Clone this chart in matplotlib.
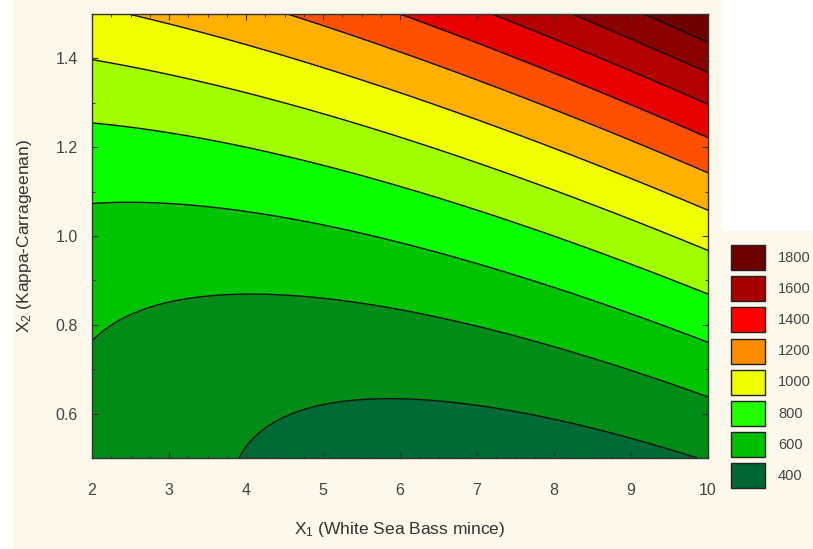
import numpy as np
import matplotlib
matplotlib.use('Agg')
import matplotlib.pyplot as plt
from matplotlib.patches import Rectangle
from matplotlib.ticker import MultipleLocator

plt.rcParams['font.family'] = ['Liberation Sans', 'DejaVu Sans']
plt.rcParams['mathtext.fontset'] = 'custom'
plt.rcParams['mathtext.rm'] = 'Liberation Sans'
plt.rcParams['mathtext.it'] = 'Liberation Sans'

# fitted response surface: z = b0 + b_y*y + b_yy*y^2 + b_x*x + b_xy*x*y + b_xx*x^2
coef_names = ['b0', 'b_y', 'b_yy', 'b_x', 'b_xy', 'b_xx']
coef_vals = [954.8, -704.6, 464.9, -121.5, 86.77, 5.672]

x1_range = [2, 10]
x2_range = [0.5, 1.5]

levels = [500, 600, 700, 800, 900, 1000, 1100, 1200, 1300, 1400, 1500]
band_colors = ['#006a35', '#008c17', '#00c400', '#0cff00', '#a2ff00', '#f0ff00',
               '#ffb000', '#ff5000', '#e80000', '#b30000', '#8a0000', '#6e0000']

legend_labels = ['1800', '1600', '1400', '1200', '1000', '800', '600', '400']
legend_colors = ['#6e0000', '#a80000', '#ff0000', '#ff8c00', '#eeff00', '#22ff00', '#00be00', '#006633']

c = dict(zip(coef_names, coef_vals))
xx, yy = np.meshgrid(np.linspace(x1_range[0], x1_range[1], 300),
                     np.linspace(x2_range[0], x2_range[1], 300))
zz = (c['b0'] + c['b_y'] * yy + c['b_yy'] * yy ** 2 + c['b_x'] * xx
      + c['b_xy'] * xx * yy + c['b_xx'] * xx ** 2)

fig = plt.figure(figsize=(8.13, 5.49), dpi=100)
fig.patch.set_facecolor('#fdf8ec')
# white margins round the cream panel
fig.patches.append(Rectangle((0, 0), 12 / 813, 1, transform=fig.transFigure, color='white', zorder=-1))
fig.patches.append(Rectangle((722 / 813, 1 - 230 / 549), 1, 1, transform=fig.transFigure, color='white', zorder=-1))

ax = fig.add_axes([92 / 813, 1 - 458 / 549, 616 / 813, 444 / 549])
all_levels = [zz.min() - 1] + levels + [zz.max() + 1]
ax.contourf(xx, yy, zz, levels=all_levels, colors=band_colors)
ax.contour(xx, yy, zz, levels=levels, colors='#111111', linewidths=1.0)

ax.set_xlim(x1_range)
ax.set_ylim(x2_range)
ax.xaxis.set_major_locator(MultipleLocator(1))
ax.xaxis.set_minor_locator(MultipleLocator(0.25))
ax.yaxis.set_major_locator(MultipleLocator(0.2))
ax.yaxis.set_minor_locator(MultipleLocator(0.1))
ax.set_yticks([0.6, 0.8, 1.0, 1.2, 1.4])
ax.set_yticklabels(['0.6', '0.8', '1.0', '1.2', '1.4'])
ax.tick_params(which='both', direction='in', top=True, right=True, colors='#333333',
               labelsize=11.5, labelcolor='#444444')
ax.tick_params(which='major', length=4, width=0.8)
ax.tick_params(which='minor', length=2.5, width=0.7)
ax.tick_params(axis='x', pad=18)
ax.tick_params(axis='y', pad=10)
for s in ax.spines.values():
    s.set_color('#333333')
    s.set_linewidth(1)

ax.set_xlabel(r'X$_1$ (White Sea Bass mince)', fontsize=12.5, color='#333333', labelpad=16)
ax.set_ylabel(r'X$_2$ (Kappa-Carrageenan)', fontsize=12.5, color='#333333', labelpad=16)

# legend boxes
for i, (lab, col) in enumerate(zip(legend_labels, legend_colors)):
    top = 245 + i * 31.2
    fig.patches.append(Rectangle((731 / 813, 1 - (top + 25) / 549), 34 / 813, 25 / 549,
                                 transform=fig.transFigure, facecolor=col,
                                 edgecolor='#222222', linewidth=1))
    fig.text(778 / 813, 1 - (top + 12.5) / 549, lab, fontsize=10.5, color='#444444',
             va='center', ha='left')

fig.savefig('out.png', dpi=100, facecolor=fig.get_facecolor())
